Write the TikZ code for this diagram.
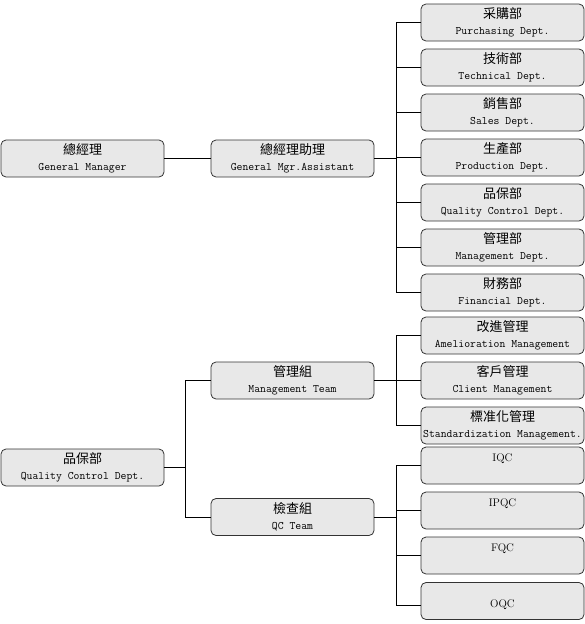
\documentclass[tikz,border=0pt]{standalone}
\usepackage{fontspec}
\newfontfamily\cjk{Noto Sans CJK TC}
\usetikzlibrary{positioning}

\begin{document}
\begin{tikzpicture}[x=1pt, y=-1pt,
  dept/.style={draw=black!80, fill=black!9, rounded corners=5pt, line width=0.8pt,
    minimum width=163pt, minimum height=37pt, inner sep=0pt, align=center,
    font=\fontsize{11.4}{16}\selectfont\ttfamily},
  qcbox/.style={dept, font=\fontsize{11}{16}\selectfont\rmfamily},
  link/.style={line width=0.8pt}]
  \useasboundingbox (0,0) rectangle (585,624);
  % upper tree
  \node[dept] (gm)  at (82.5,158.5) {{\cjk\fontsize{13}{16}\selectfont 總經理}\\General Manager};
  \node[dept] (gma) at (292.5,158.5) {{\cjk\fontsize{13}{16}\selectfont 總經理助理}\\General Mgr.Assistant};
  \node[dept] (pur) at (502.5,22.5) {{\cjk\fontsize{13}{16}\selectfont 采購部}\\Purchasing Dept.};
  \node[dept] (tec) at (502.5,67.5) {{\cjk\fontsize{13}{16}\selectfont 技術部}\\Technical Dept.};
  \node[dept] (sal) at (502.5,112.5) {{\cjk\fontsize{13}{16}\selectfont 銷售部}\\Sales Dept.};
  \node[dept] (pro) at (502.5,157.5) {{\cjk\fontsize{13}{16}\selectfont 生產部}\\Production Dept.};
  \node[dept] (qcd) at (502.5,202.5) {{\cjk\fontsize{13}{16}\selectfont 品保部}\\Quality Control Dept.};
  \node[dept] (mgd) at (502.5,247.5) {{\cjk\fontsize{13}{16}\selectfont 管理部}\\Management Dept.};
  \node[dept] (fin) at (502.5,292.5) {{\cjk\fontsize{13}{16}\selectfont 財務部}\\Financial Dept.};
  \coordinate (busA) at (396,158.5);
  \draw[link] (gm) -- (gma);
  \draw[link] (gma) -- (busA);
  \draw[link] (busA) |- (pur.west);
  \draw[link] (busA) |- (tec.west);
  \draw[link] (busA) |- (sal.west);
  \draw[link] (busA) |- (pro.west);
  \draw[link] (busA) |- (qcd.west);
  \draw[link] (busA) |- (mgd.west);
  \draw[link] (busA) |- (fin.west);
  % lower tree
  \node[dept] (qc)  at (82.5,467.5) {{\cjk\fontsize{13}{16}\selectfont 品保部}\\Quality Control Dept.};
  \node[dept] (mt)  at (292.5,380.5) {{\cjk\fontsize{13}{16}\selectfont 管理組}\\Management Team};
  \node[dept] (qct) at (292.5,517) {{\cjk\fontsize{13}{16}\selectfont 檢查組}\\QC Team};
  \node[dept] (ame) at (502.5,335.5) {{\cjk\fontsize{13}{16}\selectfont 改進管理}\\Amelioration Management};
  \node[dept] (cli) at (502.5,380.5) {{\cjk\fontsize{13}{16}\selectfont 客戶管理}\\Client Management};
  \node[dept] (std) at (502.5,425.5) {{\cjk\fontsize{13}{16}\selectfont 標准化管理}\\Standardization Management.};
  \node[qcbox] (iqc)  at (502.5,465.5) {IQC\\~};
  \node[qcbox] (ipqc) at (502.5,510.5) {IPQC\\~};
  \node[qcbox] (fqc)  at (502.5,555.5) {FQC\\~};
  \node[qcbox] (oqc)  at (502.5,601) {~\\OQC};
  \coordinate (busB) at (185,467.5);
  \coordinate (busC) at (396,380.5);
  \coordinate (busD) at (396,517);
  \draw[link] (qc) -- (busB);
  \draw[link] (busB) |- (mt.west);
  \draw[link] (busB) |- (qct.west);
  \draw[link] (mt) -- (busC);
  \draw[link] (busC) |- (ame.west);
  \draw[link] (busC) |- (cli.west);
  \draw[link] (busC) |- (std.west);
  \draw[link] (qct) -- (busD);
  \draw[link] (busD) |- (iqc.west);
  \draw[link] (busD) |- (ipqc.west);
  \draw[link] (busD) |- (fqc.west);
  \draw[link] (busD) |- ([yshift=-4pt]oqc.west);
\end{tikzpicture}
\end{document}
